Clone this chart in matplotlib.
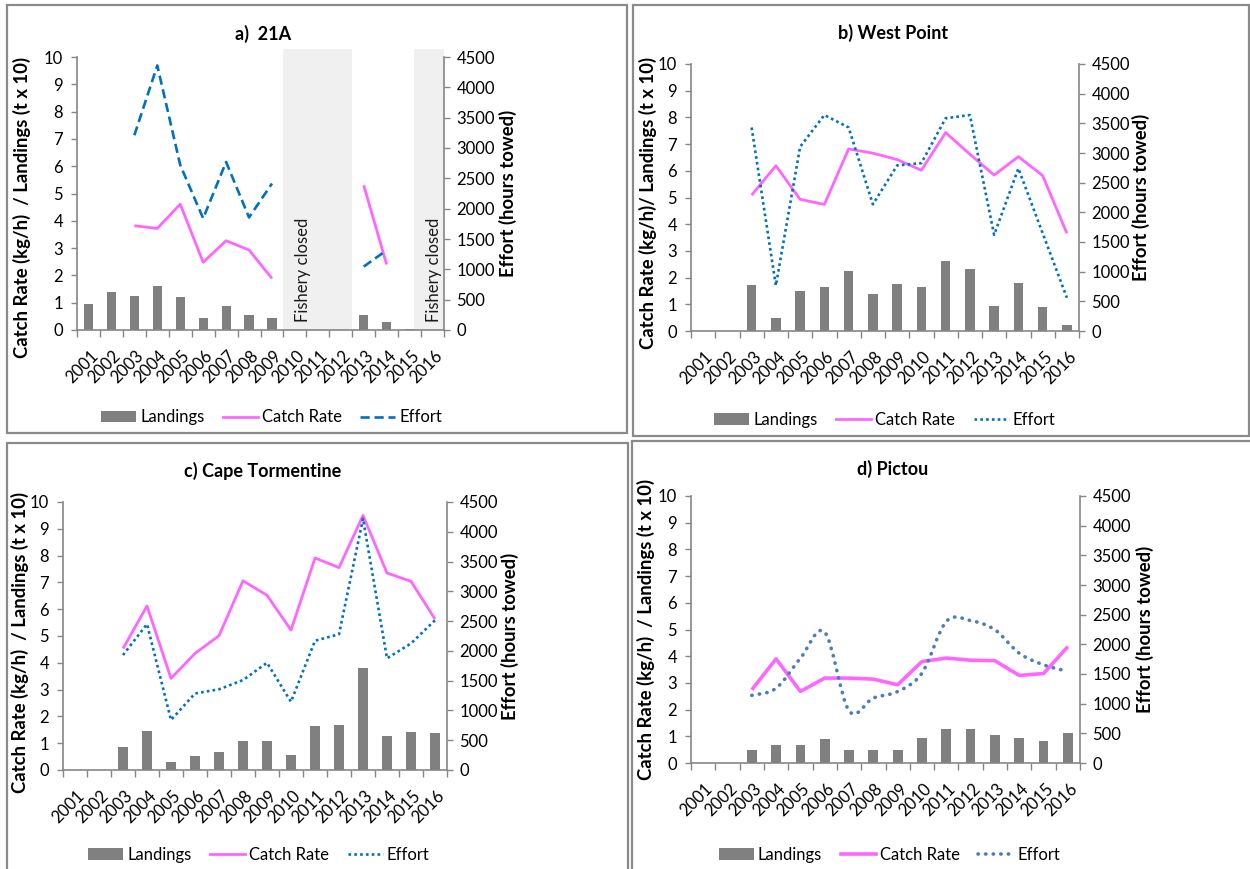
import numpy as np
import matplotlib.pyplot as plt
from matplotlib.patches import Rectangle, Patch, PathPatch
from matplotlib.lines import Line2D
from matplotlib.path import Path
from matplotlib.transforms import ScaledTranslation

plt.rcParams['font.family'] = ['Lato', 'DejaVu Sans']

nan = np.nan
years = list(range(2001, 2017))

# a) 21A
a_landings = [0.95, 1.40, 1.24, 1.61, 1.22, 0.45, 0.88, 0.55, 0.45, nan, nan, nan, 0.55, 0.29, 0.04, nan]
a_catch = [nan, nan, 3.82, 3.72, 4.61, 2.48, 3.27, 2.93, 1.89, nan, nan, nan, 5.30, 2.40, nan, nan]
a_effort = [nan, nan, 3210, 4360, 2720, 1840, 2770, 1855, 2415, nan, nan, nan, 1045, 1315, nan, nan]
a_closed = [(2009.5, 2012.5), (2015.2, 2016.5)]  # shaded periods (year units)

# b) West Point
b_landings = [nan, nan, 1.72, 0.47, 1.50, 1.66, 2.26, 1.37, 1.76, 1.66, 2.63, 2.32, 0.94, 1.79, 0.91, 0.22]
b_catch = [nan, nan, 5.09, 6.19, 4.93, 4.74, 6.82, 6.66, 6.42, 6.02, 7.43, 6.62, 5.84, 6.53, 5.82, 3.66]
b_effort = [nan, nan, 3430, 765, 3105, 3640, 3430, 2135, 2790, 2830, 3585, 3640, 1620, 2740, 1650, 560]

# c) Cape Tormentine
c_landings = [nan, nan, 0.84, 1.47, 0.29, 0.52, 0.66, 1.08, 1.09, 0.56, 1.65, 1.68, 3.81, 1.28, 1.40, 1.37]
c_catch = [nan, nan, 4.53, 6.12, 3.42, 4.35, 5.01, 7.06, 6.52, 5.22, 7.91, 7.55, 9.50, 7.35, 7.04, 5.63]
c_effort = [nan, nan, 1930, 2450, 840, 1285, 1355, 1510, 1800, 1145, 2170, 2280, 4220, 1875, 2125, 2515]

# d) Pictou
d_landings = [nan, nan, 0.47, 0.66, 0.66, 0.89, 0.47, 0.47, 0.47, 0.95, 1.26, 1.26, 1.03, 0.92, 0.82, 1.13]
d_catch = [nan, nan, 2.74, 3.90, 2.68, 3.18, 3.18, 3.14, 2.93, 3.80, 3.93, 3.85, 3.83, 3.28, 3.35, 4.36]
d_effort = [nan, nan, 1140, 1260, 1765, 2205, 880, 1095, 1205, 1515, 2385, 2400, 2245, 1850, 1655, 1545]

BAR = '#808080'
PINK = '#FF66FF'
AXCOL = '#868686'
FS = 12

W, H = 1250, 869
fig = plt.figure(figsize=(12.5, 8.69), dpi=100)


def px_axes(left, right, top, bottom):
    return fig.add_axes([left / W, 1 - bottom / H, (right - left) / W, (bottom - top) / H])


def frame(x0, y0, x1, y1):
    fig.add_artist(Rectangle((x0 / W, 1 - y1 / H), (x1 - x0) / W, (y1 - y0) / H,
                             transform=fig.transFigure, fill=False, ec='#8a8a8a', lw=1.6))


def smooth_path(x, y):
    # Excel-style smoothed line: bezier segments through the data points
    pts = [(xi, yi) for xi, yi in zip(x, y) if not np.isnan(yi)]
    p = np.array(pts, dtype=float)
    verts = [p[0]]
    codes = [Path.MOVETO]
    n = len(p)
    for i in range(n - 1):
        p0 = p[i - 1] if i > 0 else p[i]
        p3 = p[i + 2] if i + 2 < n else p[i + 1]
        c1 = p[i] + (p[i + 1] - p0) / 6
        c2 = p[i + 1] - (p3 - p[i]) / 6
        verts += [c1, c2, p[i + 1]]
        codes += [Path.CURVE4] * 3
    return Path(verts, codes)


def panel(box, title, title_xy, landings, catch, effort, eff_col, eff_ls, eff_lw, catch_lw,
          left_label, lab_pos, legend_xy, capstyle='butt', smooth=False):
    ax = px_axes(*box)
    ax2 = ax.twinx()

    ax.bar(years, landings, width=0.4, color=BAR, zorder=2)
    ax.plot(years, catch, color=PINK, lw=catch_lw, zorder=3, solid_capstyle='butt')
    if smooth:
        ax2.add_patch(PathPatch(smooth_path(years, effort), fill=False, ec=eff_col, lw=eff_lw,
                                ls=eff_ls, capstyle=capstyle))
    else:
        ax2.plot(years, effort, color=eff_col, lw=eff_lw, ls=eff_ls, dash_capstyle=capstyle)

    ax.set_xlim(2000.5, 2016.5)
    ax.set_ylim(0, 10)
    ax2.set_ylim(0, 4500)
    ax.set_yticks(range(0, 11))
    ax2.set_yticks(range(0, 4501, 500))

    ax.set_xticks(years)
    ax.set_xticklabels([str(y) for y in years], rotation=45, ha='right', va='center',
                       rotation_mode='anchor', fontsize=FS)
    ax.set_xticks(np.arange(2000.5, 2017), minor=True)
    ax.tick_params(axis='x', which='major', length=0, pad=17)
    ax.tick_params(axis='x', which='minor', length=5, width=1, color=AXCOL, direction='out')
    shift = ScaledTranslation(5 / 72, 0, fig.dpi_scale_trans)
    for lab in ax.get_xticklabels():
        lab.set_transform(lab.get_transform() + shift)

    ax.tick_params(axis='y', length=4, width=1, color=AXCOL, pad=6, labelsize=FS)
    ax2.tick_params(axis='y', length=4, width=1, color=AXCOL, pad=5, labelsize=FS)

    for s in ['top', 'right']:
        ax.spines[s].set_visible(False)
    for s in ['top', 'left', 'bottom']:
        ax2.spines[s].set_visible(False)
    for s in [ax.spines['left'], ax.spines['bottom'], ax2.spines['right']]:
        s.set_color(AXCOL)
        s.set_linewidth(1.2)

    ax.set_ylabel(left_label, fontsize=13.3, fontweight='bold', va='center')
    ax.yaxis.set_label_coords(lab_pos[0], lab_pos[1])
    ax2.set_ylabel('Effort (hours towed)', fontsize=13.3, fontweight='bold', va='center')
    ax2.yaxis.set_label_coords(lab_pos[2], 0.5)

    fig.text(title_xy[0] / W, 1 - title_xy[1] / H, title, fontsize=13, fontweight='bold',
             ha='center', va='center')

    handles = [Patch(fc=BAR),
               Line2D([], [], color=PINK, lw=catch_lw),
               Line2D([], [], color=eff_col, lw=eff_lw, ls=eff_ls, dash_capstyle=capstyle)]
    ax.legend(handles, ['Landings', 'Catch Rate', 'Effort'], loc='center',
              bbox_to_anchor=legend_xy, ncol=3, frameon=False, fontsize=FS,
              handlelength=2.1, handletextpad=0.25, columnspacing=1.1)
    return ax, ax2


# panel a
frame(7, 5, 627, 433)
ax, ax2 = panel((77, 444, 57, 330), 'a)  21A', (263, 34), a_landings, a_catch, a_effort,
                '#0070C0', (0, (3.5, 1.8)), 1.9, 2.0,
                'Catch Rate (kg/h)  / Landings (t x 10)', (-0.15, 0.45, 1.175), (0.53, -0.32))
for x0, x1 in a_closed:
    ax.axvspan(x0, x1, ymin=0, ymax=1.028, color='#F0F0F0', zorder=0, clip_on=False, lw=0)
ax.text(2010.35, 0.3, 'Fishery closed', rotation=90, ha='center', va='bottom', fontsize=FS,
        color='#1a1a1a', zorder=4)
ax.text(2016.05, 0.3, 'Fishery closed', rotation=90, ha='center', va='bottom', fontsize=FS,
        color='#1a1a1a', zorder=4)

# panel b
frame(633, 5, 1249, 436)
panel((691, 1079, 64, 331), 'b) West Point', (893, 33), b_landings, b_catch, b_effort,
      '#0070C0', (0, (1, 1.2)), 1.9, 2.0,
      'Catch Rate (kg/h)/ Landings (t x 10)', (-0.11, 0.48, 1.16), (0.50, -0.333))

# panel c
frame(7, 443, 628, 880)
panel((63, 447, 502, 770), 'c) Cape Tormentine', (263, 471), c_landings, c_catch, c_effort,
      '#0070C0', (0, (1, 1.2)), 1.9, 2.0,
      'Catch Rate (kg/h)  / Landings (t x 10)', (-0.112, 0.476, 1.164), (0.51, -0.317))

# panel d
frame(632, 441, 1255, 880)
panel((691, 1080, 496, 763), 'd) Pictou', (893, 469), d_landings, d_catch, d_effort,
      '#4A7EBB', (0, (0.1, 2.0)), 2.6, 2.6,
      'Catch Rate (kg/h)  / Landings (t x 10)', (-0.116, 0.50, 1.167), (0.51, -0.345),
      capstyle='round', smooth=True)

fig.savefig('out.png', dpi=100)
